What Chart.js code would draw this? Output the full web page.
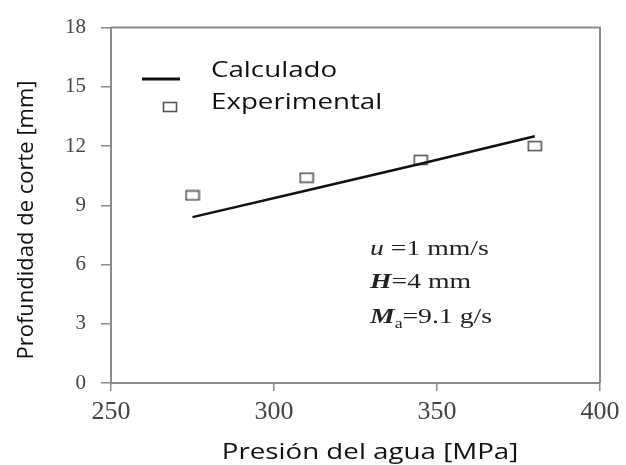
<!DOCTYPE html>
<html>
<head>
<meta charset="utf-8">
<script src="https://cdn.jsdelivr.net/npm/chart.js@4.4.1/dist/chart.umd.min.js"></script>
<style>
  html, body { margin: 0; padding: 0; background: #fff; }
</style>
</head>
<body>
<canvas id="chart" width="626" height="465"></canvas>
<script>
// datos
const presionCalc = [275, 310, 345, 380];
const profCalc = [8.4, 9.75, 11.1, 12.5];
const presionExp = [275, 310, 345, 380];
const profExp = [9.5, 10.4, 11.3, 12.0];
const xTicks = [250, 300, 350, 400];
const yTicks = [0, 3, 6, 9, 12, 15, 18];

const AXIS = '#8a8a8a';
const SERIF = '"Liberation Serif"';
const SANS = '"Open Sans"';
const STRETCH = 1.26; // la figura original esta estirada a lo ancho

// marcador cuadrado (un poco mas ancho que alto, como en la figura)
function squareMarker() {
    const c = document.createElement('canvas');
    c.width = 16; c.height = 12;
    const g = c.getContext('2d');
    g.fillStyle = '#fff';
    g.fillRect(1, 1, 14, 10);
    g.strokeStyle = '#555';
    g.lineWidth = 1.6;
    g.strokeRect(1.5, 1.5, 13, 9);
    return c;
}
const marker = squareMarker();

// texto estirado en horizontal, hecho de trozos con distinta fuente
function wideText(ctx, parts, x, y, align) {
    ctx.save();
    ctx.translate(x, y);
    ctx.scale(STRETCH, 1);
    let total = 0;
    parts.forEach(p => { ctx.font = p[1]; total += ctx.measureText(p[0]).width; });
    let cx = align === 'center' ? -total / 2 : 0;
    ctx.textAlign = 'left';
    parts.forEach(p => {
        ctx.font = p[1];
        ctx.fillText(p[0], cx, p[2] || 0);
        cx += ctx.measureText(p[0]).width;
    });
    ctx.restore();
}

const extras = {
    id: 'extras',
    afterDraw(chart) {
        const ctx = chart.ctx;
        const a = chart.chartArea;
        ctx.save();

        // marco superior y derecho
        ctx.strokeStyle = AXIS;
        ctx.lineWidth = 2;
        ctx.beginPath();
        ctx.moveTo(a.left, a.top);
        ctx.lineTo(a.right, a.top);
        ctx.lineTo(a.right, a.bottom);
        ctx.stroke();

        // leyenda
        ctx.strokeStyle = '#111';
        ctx.lineWidth = 3;
        ctx.beginPath();
        ctx.moveTo(142, 79);
        ctx.lineTo(180, 79);
        ctx.stroke();
        ctx.drawImage(marker, 170 - 8, 107 - 6);

        ctx.fillStyle = '#111';
        ctx.textBaseline = 'alphabetic';
        const sans = '22px ' + SANS;
        wideText(ctx, [['Calculado', sans]], 211, 77);
        wideText(ctx, [['Experimental', sans]], 211, 109);

        // titulo eje x
        wideText(ctx, [['Presión del agua [MPa]', sans]], 370, 459, 'center');

        // titulo eje y
        ctx.save();
        ctx.translate(27, 220);
        ctx.rotate(-Math.PI / 2);
        ctx.font = sans;
        ctx.textAlign = 'center';
        ctx.textBaseline = 'middle';
        ctx.fillText('Profundidad de corte [mm]', 0, 0);
        ctx.restore();

        // condiciones del ensayo
        ctx.fillStyle = '#222';
        ctx.textBaseline = 'alphabetic';
        const reg = '22px ' + SERIF;
        const ita = 'italic 22px ' + SERIF;
        const bit = 'italic bold 22px ' + SERIF;
        wideText(ctx, [['u', ita], [' =1 mm/s', reg]], 370, 255);
        wideText(ctx, [['H', bit], ['=4 mm', reg]], 370, 288);
        wideText(ctx, [['M', bit], ['a', '14px ' + SERIF, 5], ['=9.1 g/s', reg]], 370, 323);

        ctx.restore();
    }
};

new Chart(document.getElementById('chart'), {
    type: 'line',
    data: {
        datasets: [{
            label: 'Calculado',
            data: presionCalc.map((x, i) => ({ x: x, y: profCalc[i] })),
            borderColor: '#111',
            borderWidth: 2.5,
            pointRadius: 0,
            fill: false,
            tension: 0
        }, {
            label: 'Experimental',
            data: presionExp.map((x, i) => ({ x: x, y: profExp[i] })),
            showLine: false,
            pointStyle: marker,
            pointRadius: 6
        }]
    },
    options: {
        responsive: false,
        animation: false,
        events: [],
        layout: { padding: { top: 22, right: 26, left: 0, bottom: 0 } },
        plugins: { legend: { display: false }, tooltip: { enabled: false } },
        scales: {
            x: {
                type: 'linear',
                min: 250,
                max: 400,
                afterBuildTicks: s => { s.ticks = xTicks.map(v => ({ value: v })); },
                afterFit: s => { s.height = 82; },
                border: { color: AXIS, width: 2 },
                grid: { drawOnChartArea: false, drawTicks: true, tickLength: 8, color: AXIS, lineWidth: 1.5 },
                ticks: {
                    font: { family: SERIF, size: 26 },
                    color: '#444',
                    padding: 6,
                    maxRotation: 0
                }
            },
            y: {
                min: 0,
                max: 18,
                afterBuildTicks: s => { s.ticks = yTicks.map(v => ({ value: v })); },
                afterFit: s => { s.width = 111; },
                border: { color: AXIS, width: 2 },
                grid: { drawOnChartArea: false, drawTicks: true, tickLength: 10, color: AXIS, lineWidth: 1.5 },
                ticks: {
                    font: { family: SERIF, size: 21 },
                    color: '#444',
                    padding: 15
                }
            }
        }
    },
    plugins: [extras]
});
</script>
</body>
</html>
